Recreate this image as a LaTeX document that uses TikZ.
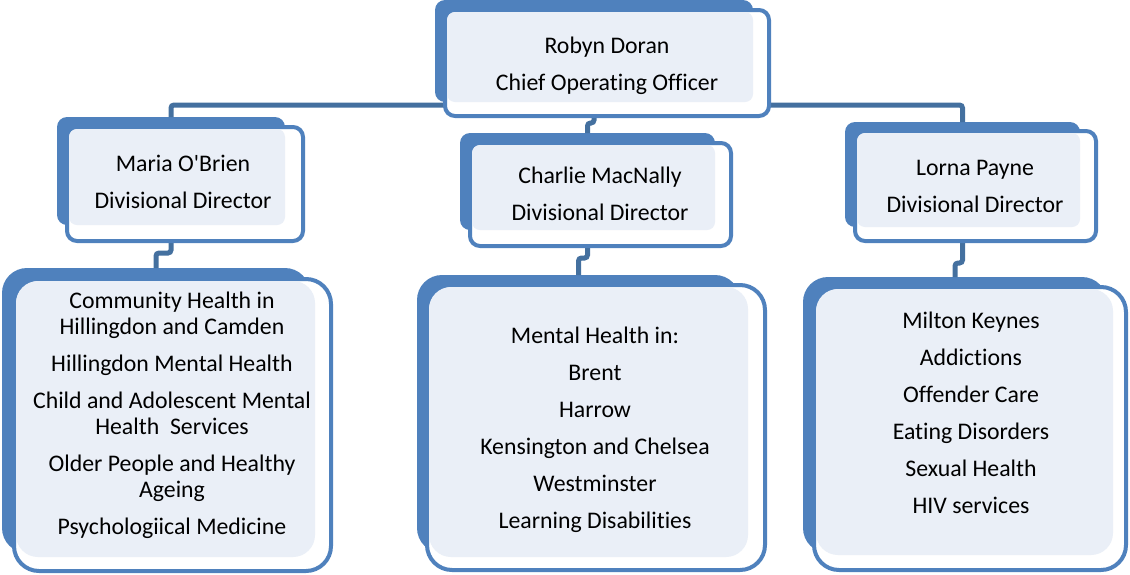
\documentclass[tikz,border=0pt]{standalone}
\usepackage{fontspec}
\setmainfont[Ligatures={TeXOff,NoCommon}]{Carlito}
\usetikzlibrary{positioning,calc}
\definecolor{boxblue}{HTML}{4F81BD}
\definecolor{linkblue}{HTML}{44709F}
\definecolor{paleblue}{HTML}{EAEFF7}
\tikzset{
  back/.style={rectangle, rounded corners=10pt, fill=boxblue, anchor=north west, inner sep=0pt, outer sep=0pt},
  front/.style={rectangle, rounded corners=10pt, draw=boxblue, line width=4pt, fill=white, anchor=north west, inner sep=0pt, outer sep=0pt},
  pale/.style={fill=paleblue, rounded corners=8pt},
  big/.style={rounded corners=25pt},
  txt/.style={anchor=base, align=center, inner sep=0pt, font=\fontsize{23.8}{26}\selectfont},
  link/.style={draw=linkblue, line width=5pt, rounded corners=3pt}
}
\begin{document}
\begin{tikzpicture}[x=1pt,y=-1pt]
	\useasboundingbox (0,0) rectangle (1130,574);
	% back shapes
	\node[back, minimum width=318pt, minimum height=102pt] (cooB) at (435,0) {};
	\node[back, minimum width=228pt, minimum height=108pt] (mobB) at (57,117) {};
	\node[back, minimum width=255pt, minimum height=97pt] (cmnB) at (460,133) {};
	\node[back, minimum width=235pt, minimum height=105pt] (lpyB) at (845,122) {};
	\node[back, big, minimum width=308pt, minimum height=285pt] (chsB) at (2,268) {};
	\node[back, big, minimum width=323pt, minimum height=278pt] (mhsB) at (417,275) {};
	\node[back, big, minimum width=304pt, minimum height=276pt] (spcB) at (803,277) {};
	%
	\draw[link] (cooB.south) -- ++(0,3) -| (mobB.north);
	\draw[link] (cooB.south) -- ++(0,3) -| (lpyB.north);
	\draw[link] (cooB.south) -- ++(0,21) -| (cmnB.north);
	\draw[link] (mobB.south) -- ++(0,28) -| (chsB.north);
	\draw[link] (cmnB.south) -- ++(0,28) -| (mhsB.north);
	\draw[link] (lpyB.south) -- ++(0,36) -| (spcB.north);
	% front boxes (text anchored at the baseline of its last line)
	\node[front, minimum width=324pt, minimum height=106pt] (coo) at (445,10) {};
	\fill[pale] ($(coo.north west)+(2,2)$) rectangle (cooB.south east);
	\node[txt] (cooT) at (607,90) {Robyn Doran\\[11pt]Chief Operating Officer};
	%
	\node[front, minimum width=236pt, minimum height=114pt] (mob) at (67,127) {};
	\fill[pale] ($(mob.north west)+(2,2)$) rectangle (mobB.south east);
	\node[txt] (mobT) at (183,208) {Maria O'Brien\\[11pt]Divisional Director};
	%
	\node[front, minimum width=261pt, minimum height=103pt] (cmn) at (470,143) {};
	\fill[pale] ($(cmn.north west)+(2,2)$) rectangle (cmnB.south east);
	\node[txt] (cmnT) at (600,220) {Charlie MacNally\\[11pt]Divisional Director};
	%
	\node[front, minimum width=241pt, minimum height=110pt] (lpy) at (855,131) {};
	\fill[pale] ($(lpy.north west)+(2,2)$) rectangle (lpyB.south east);
	\node[txt] (lpyT) at (975,212) {Lorna Payne\\[11pt]Divisional Director};
	%
	\node[front, big, minimum width=317pt, minimum height=292pt] (chs) at (14,279) {};
	\fill[pale, rounded corners=22pt] ($(chs.north west)+(2,2)$) rectangle ($(chsB.south east)+(5,4)$);
	\node[txt] (chsT) at (172,534) {Community Health in\\Hillingdon and Camden\\[11pt]Hillingdon Mental Health\\[11pt]Child and Adolescent Mental\\Health\ \ Services\\[11pt]Older People and Healthy\\Ageing\\[11pt]Psychologiical Medicine};
	%
	\node[front, big, minimum width=338pt, minimum height=285pt] (mhs) at (427,285) {};
	\fill[pale, rounded corners=22pt] ($(mhs.north west)+(2,2)$) rectangle ($(mhsB.south east)+(8,4)$);
	\node[txt] (mhsT) at (595,528) {Mental Health in:\\[11pt]Brent\\[11pt]Harrow\\[11pt]Kensington and Chelsea\\[11pt]Westminster\\[11pt]Learning Disabilities};
	%
	\node[front, big, minimum width=312pt, minimum height=283pt] (spc) at (814,287) {};
	\fill[pale, rounded corners=22pt] ($(spc.north west)+(2,2)$) rectangle ($(spcB.south east)+(6,2)$);
	\node[txt] (spcT) at (971,513) {Milton Keynes\\[11pt]Addictions\\[11pt]Offender Care\\[11pt]Eating Disorders\\[11pt]Sexual Health\\[11pt]HIV services};
\end{tikzpicture}
\end{document}
